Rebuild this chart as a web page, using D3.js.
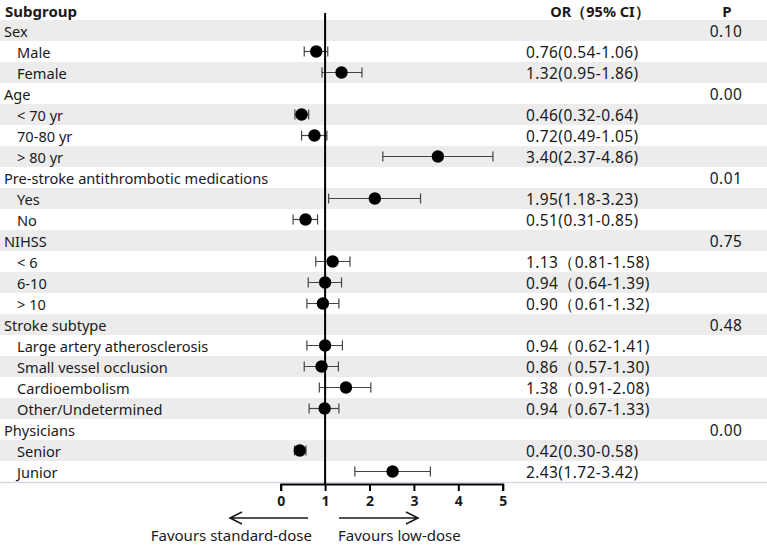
<!DOCTYPE html>
<html>
<head>
<meta charset="utf-8">
<script src="https://cdn.jsdelivr.net/npm/d3@7"></script>
<style>
  body { margin: 0; background: #fff; }
  svg text { font-family: "Noto Sans", "Open Sans", sans-serif; fill: #1a1a1a; }
</style>
</head>
<body>
<div id="chart"></div>
<script>
// rows of the table, top to bottom (header rows have no estimate)
var labels = ["Sex", "Male", "Female", "Age", "< 70 yr", "70-80 yr", "> 80 yr",
  "Pre-stroke antithrombotic medications", "Yes", "No", "NIHSS", "< 6", "6-10", "> 10",
  "Stroke subtype", "Large artery atherosclerosis", "Small vessel occlusion",
  "Cardioembolism", "Other/Undetermined", "Physicians", "Senior", "Junior"];
var isGroup = [1, 0, 0, 1, 0, 0, 0, 1, 0, 0, 1, 0, 0, 0, 1, 0, 0, 0, 0, 1, 0, 0];
var orText = ["", "0.76(0.54-1.06)", "1.32(0.95-1.86)", "", "0.46(0.32-0.64)", "0.72(0.49-1.05)",
  "3.40(2.37-4.86)", "", "1.95(1.18-3.23)", "0.51(0.31-0.85)", "", "1.13（0.81-1.58)",
  "0.94（0.64-1.39)", "0.90（0.61-1.32)", "", "0.94（0.62-1.41)", "0.86（0.57-1.30)",
  "1.38（0.91-2.08)", "0.94（0.67-1.33)", "", "0.42(0.30-0.58)", "2.43(1.72-3.42)"];
var pText = ["0.10", "", "", "0.00", "", "", "", "0.01", "", "", "0.75", "", "", "",
  "0.48", "", "", "", "", "0.00", "", ""];
// plotted marks as drawn in the figure
var est = [null, 0.80, 1.37, null, 0.47, 0.76, 3.54, null, 2.12, 0.56, null, 1.17, 1.00, 0.95,
  null, 1.00, 0.92, 1.47, 0.99, null, 0.43, 2.52];
var lo = [null, 0.53, 0.93, null, 0.32, 0.47, 2.30, null, 1.08, 0.28, null, 0.79, 0.62, 0.59,
  null, 0.59, 0.53, 0.87, 0.64, null, 0.31, 1.67];
var hi = [null, 1.06, 1.83, null, 0.63, 1.04, 4.78, null, 3.15, 0.83, null, 1.56, 1.37, 1.31,
  null, 1.39, 1.30, 2.03, 1.31, null, 0.57, 3.37];
var ticks = [0, 1, 2, 3, 4, 5];

var width = 767, height = 546;
var rowTop = 20, rowH = 21;

var svg = d3.select("#chart").append("svg")
  .attr("width", width).attr("height", height);

var x = d3.scaleLinear().domain([0, 5]).range([280.7, 502.7]);
var y = d3.scaleBand().domain(d3.range(labels.length))
  .range([rowTop, rowTop + rowH * labels.length]);

var rows = labels.map(function(l, i) {
  return { i: i, label: l, group: isGroup[i], or: orText[i], p: pText[i],
    est: est[i], lo: lo[i], hi: hi[i] };
});

// zebra bands
svg.append("g").selectAll("rect")
  .data(rows.filter(function(d) { return d.i % 2 === 0; }))
  .enter().append("rect")
  .attr("x", 0).attr("width", width)
  .attr("y", function(d) { return y(d.i); })
  .attr("height", y.bandwidth())
  .attr("fill", "#ececec");

// bottom rule of table
svg.append("line")
  .attr("x1", 0).attr("x2", width)
  .attr("y1", y.range()[1] + 0.5).attr("y2", y.range()[1] + 0.5)
  .attr("stroke", "#d5d9e6").attr("stroke-width", 1.5);

// headers
svg.append("text").attr("x", 5).attr("y", 17)
  .attr("font-size", 15).attr("font-weight", "bold").text("Subgroup");
svg.append("text").attr("x", 600).attr("y", 17).attr("text-anchor", "middle")
  .attr("font-size", 14.5).attr("font-weight", "bold").text("OR（95% CI）");
svg.append("text").attr("x", 727).attr("y", 17).attr("text-anchor", "middle")
  .attr("font-size", 15).attr("font-weight", "bold").text("P");

var row = svg.append("g").selectAll("g")
  .data(rows).enter().append("g")
  .attr("transform", function(d) { return "translate(0," + (y(d.i) + y.bandwidth() / 2) + ")"; });

row.append("text")
  .attr("x", function(d) { return d.group ? 4 : 17; })
  .attr("y", 6)
  .attr("font-size", 14.6)
  .text(function(d) { return d.label; });

row.append("text")
  .attr("x", 526).attr("y", 6)
  .attr("font-size", 15.5).attr("letter-spacing", 0.4)
  .text(function(d) { return d.or; });

row.append("text")
  .attr("x", 726).attr("y", 6).attr("text-anchor", "middle")
  .attr("font-size", 15.5).attr("letter-spacing", 0.4)
  .text(function(d) { return d.p; });

// reference line at OR = 1
var axisY = 484;
svg.append("line")
  .attr("x1", x(1)).attr("x2", x(1))
  .attr("y1", 13).attr("y2", axisY)
  .attr("stroke", "#000").attr("stroke-width", 2);

// confidence intervals
var ci = row.filter(function(d) { return d.est != null; });
ci.append("line")
  .attr("x1", function(d) { return x(d.lo); })
  .attr("x2", function(d) { return x(d.hi); })
  .attr("stroke", "#444").attr("stroke-width", 1.2);
ci.append("line")
  .attr("x1", function(d) { return x(d.lo); }).attr("x2", function(d) { return x(d.lo); })
  .attr("y1", -5).attr("y2", 5)
  .attr("stroke", "#444").attr("stroke-width", 1.2);
ci.append("line")
  .attr("x1", function(d) { return x(d.hi); }).attr("x2", function(d) { return x(d.hi); })
  .attr("y1", -5).attr("y2", 5)
  .attr("stroke", "#444").attr("stroke-width", 1.2);
ci.append("circle")
  .attr("cx", function(d) { return x(d.est); })
  .attr("r", 6.2)
  .attr("fill", "#000");

// x axis
var axis = svg.append("g")
  .attr("transform", "translate(0," + axisY + ")")
  .call(d3.axisBottom(x).tickValues(ticks).tickFormat(d3.format("d"))
    .tickSize(7).tickPadding(5).tickSizeOuter(7));
axis.select(".domain").attr("stroke", "#000").attr("stroke-width", 2);
axis.selectAll(".tick line").attr("stroke", "#000").attr("stroke-width", 2);
axis.selectAll(".tick text")
  .attr("font-size", 14).attr("font-weight", "bold")
  .attr("font-family", "'Liberation Sans', Arial, sans-serif").attr("fill", "#1a1a1a");

// direction arrows
function arrow(x1, x2, yy) {
  var dir = x2 > x1 ? -1 : 1;
  svg.append("path")
    .attr("d", "M" + x1 + "," + yy + "H" + x2 +
      "M" + (x2 + dir * 12) + "," + (yy - 6) + "L" + x2 + "," + yy + "L" + (x2 + dir * 12) + "," + (yy + 6))
    .attr("fill", "none").attr("stroke", "#1a1a1a").attr("stroke-width", 1.6);
}
arrow(308, 230, 518);
arrow(339, 418, 518);

svg.append("text").attr("x", 312).attr("y", 541).attr("text-anchor", "end")
  .attr("font-size", 15).text("Favours standard-dose");
svg.append("text").attr("x", 338).attr("y", 541)
  .attr("font-size", 15).text("Favours low-dose");
</script>
</body>
</html>
